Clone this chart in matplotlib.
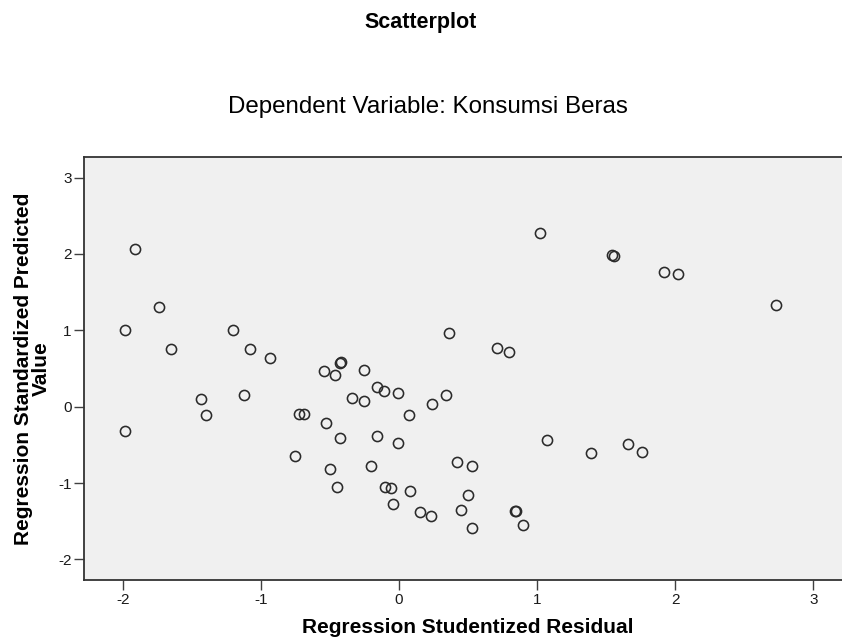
import matplotlib
matplotlib.use('Agg')
import matplotlib.pyplot as plt

# studentized residual (x) vs standardized predicted value (y)
resid = [-1.91, -1.74, -1.98, -1.65, -1.20, -1.08, -0.93, 1.02, 0.36, 0.71,
         0.80, -0.42, -0.43, -0.54, -0.46, -0.25, 1.54, 1.56, 1.92, 2.02,
         2.73, -1.98, -1.43, -1.40, -1.12, -0.75, -0.16, -0.11, -0.01, -0.34,
         -0.25, 0.34, 0.24, -0.72, -0.69, 0.07, -0.53, -0.43, -0.16, -0.01,
         1.07, -0.50, -0.20, 0.42, 0.53, -0.45, -0.10, -0.06, 0.08, 0.50,
         -0.04, 0.15, 0.23, 0.45, 0.84, 0.85, 0.90, 0.53, 1.39, 1.66, 1.76]
pred = [2.06, 1.31, 1.01, 0.76, 1.00, 0.76, 0.64, 2.27, 0.97, 0.77,
        0.72, 0.58, 0.57, 0.47, 0.42, 0.48, 1.99, 1.97, 1.76, 1.74,
        1.33, -0.32, 0.10, -0.11, 0.15, -0.64, 0.26, 0.20, 0.18, 0.12,
        0.07, 0.15, 0.04, -0.09, -0.09, -0.11, -0.21, -0.41, -0.39, -0.48,
        -0.43, -0.82, -0.78, -0.72, -0.78, -1.05, -1.05, -1.06, -1.10, -1.16,
        -1.28, -1.38, -1.43, -1.35, -1.36, -1.36, -1.55, -1.59, -0.61, -0.49, -0.60]

xticks = [-2, -1, 0, 1, 2, 3]
yticks = [-2, -1, 0, 1, 2, 3]

plt.rcParams['font.family'] = ['Liberation Sans', 'DejaVu Sans']

W, H = 842, 641
figure = plt.figure(figsize=(W / 100.0, H / 100.0), dpi=100)
figure.patch.set_facecolor('white')

# axes box runs a little past the right edge of the picture
axes = figure.add_axes([84.0 / W, (H - 580.0) / H, (852.0 - 84.0) / W, (580.0 - 157.0) / H])
axes.set_facecolor('#f0f0f0')

axes.plot(resid, pred, linestyle='none', marker='o', markersize=7.3,
          markerfacecolor='none', markeredgecolor='#2a2a2a', markeredgewidth=1.15)

axes.set_xlim(-2.28, 3.28)
axes.set_ylim(-2.27, 3.27)
axes.set_xticks(xticks)
axes.set_yticks(yticks)
axes.set_xticklabels([str(t) for t in xticks])
axes.set_yticklabels([str(t) for t in yticks])
axes.tick_params(direction='out', length=7, width=1.0, color='#404040',
                 labelsize=11, labelcolor='#1a1a1a', pad=2)

for side in ['left', 'bottom', 'top']:
    axes.spines[side].set_color('#333333')
    axes.spines[side].set_linewidth(1.3)
axes.spines['right'].set_visible(False)

axes.set_xlabel("Regression Studentized Residual", fontsize=15, fontweight='bold', labelpad=8)
axes.set_ylabel("Regression Standardized Predicted\nValue", fontsize=15, fontweight='bold',
                labelpad=5, linespacing=0.95)

figure.text(421.0 / W, 1 - 28.0 / H, "Scatterplot", fontsize=15.5, fontweight='bold',
            ha='center', va='baseline')
figure.text(428.0 / W, 1 - 113.0 / H, "Dependent Variable: Konsumsi Beras", fontsize=17.4,
            ha='center', va='baseline')

figure.savefig("out.png", dpi=100)
